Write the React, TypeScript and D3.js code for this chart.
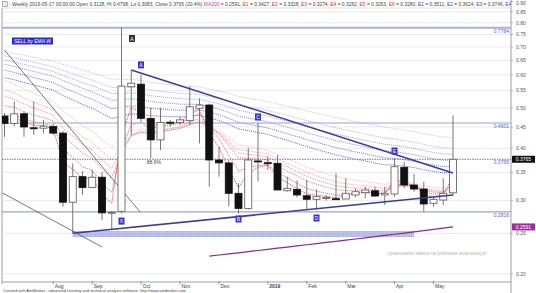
import React from 'react';
import * as d3 from 'd3';

const W = 536;
const H = 293;

// Weekly OHLC, Jul 2018 .. 2019-05-17
const opens = [0.478, 0.459, 0.484, 0.448, 0.447, 0.451, 0.435, 0.297, 0.342, 0.322, 0.341, 0.28, 0.282, 0.562, 0.57, 0.472, 0.419, 0.462, 0.461, 0.466, 0.499, 0.508, 0.375, 0.369, 0.312, 0.287, 0.373, 0.3694, 0.3682, 0.3164, 0.3189, 0.3078, 0.3018, 0.3045, 0.3028, 0.3023, 0.3091, 0.313, 0.3164, 0.3091, 0.3108, 0.3601, 0.3266, 0.3194, 0.2952, 0.3006, 0.3128];
const highs = [0.486, 0.518, 0.49, 0.518, 0.468, 0.458, 0.44, 0.368, 0.353, 0.355, 0.351, 0.283, 0.7784, 0.6165, 0.6, 0.5, 0.5, 0.468, 0.476, 0.564, 0.527, 0.512, 0.4035, 0.375, 0.33, 0.4007, 0.4601, 0.382, 0.3855, 0.342, 0.335, 0.3358, 0.3189, 0.3091, 0.3484, 0.3389, 0.3207, 0.3235, 0.3235, 0.3235, 0.3785, 0.3715, 0.347, 0.3326, 0.3062, 0.3389, 0.4798];
const lows = [0.426, 0.452, 0.426, 0.431, 0.435, 0.431, 0.2897, 0.2501, 0.309, 0.322, 0.269, 0.255, 0.279, 0.43, 0.463, 0.3785, 0.396, 0.451, 0.455, 0.455, 0.411, 0.3235, 0.342, 0.29, 0.279, 0.285, 0.333, 0.355, 0.318, 0.3147, 0.305, 0.2844, 0.2856, 0.2995, 0.3006, 0.3023, 0.305, 0.3035, 0.3062, 0.2924, 0.3062, 0.3207, 0.3147, 0.2818, 0.2897, 0.2924, 0.3083];
const closes = [0.459, 0.484, 0.45, 0.447, 0.452, 0.435, 0.297, 0.342, 0.322, 0.341, 0.28, 0.281, 0.564, 0.573, 0.472, 0.419, 0.461, 0.461, 0.468, 0.503, 0.508, 0.375, 0.369, 0.312, 0.287, 0.375, 0.3715, 0.369, 0.3177, 0.3207, 0.3091, 0.3018, 0.3062, 0.305, 0.3023, 0.312, 0.3147, 0.3177, 0.3073, 0.312, 0.3613, 0.3266, 0.3194, 0.2941, 0.3018, 0.312, 0.3765];

const monthTicks = [
  { i: 5, label: 'Aug' }, { i: 9, label: 'Sep' }, { i: 14, label: 'Oct' }, { i: 18, label: 'Nov' },
  { i: 22, label: 'Dec' }, { i: 27, label: '2019' }, { i: 31, label: 'Feb' }, { i: 35, label: 'Mar' },
  { i: 40, label: 'Apr' }, { i: 44, label: 'May' },
];
const priceTicks = [0.2, 0.25, 0.3, 0.35, 0.4, 0.45, 0.5, 0.55, 0.6, 0.65, 0.7, 0.75, 0.8, 0.85, 0.9];

// Guppy-style EMA ribbons: periods and the level each line starts from
const shortPeriods = [3, 5, 8, 10, 12, 15];
const shortSeeds = [0.47, 0.49, 0.52, 0.55, 0.57, 0.6];
const shortColors = ['#d82828', '#e04848', '#e66464', '#ec8080', '#f09a9a', '#f3b0b0'];
const longPeriods = [30, 35, 40, 45, 50, 60];
const longSeeds = [0.6, 0.625, 0.645, 0.66, 0.675, 0.69];
const longColors = ['#4c4cd6', '#6262de', '#7a7ae4', '#9292ea', '#a8a8ee', '#bcbcf2'];

// 200-period moving average, available from bar 21
const ma200Start = 21;
const ma200 = [0.2206, 0.2219, 0.2232, 0.2246, 0.226, 0.2275, 0.229, 0.2304, 0.2318, 0.2333, 0.2348, 0.2363, 0.2378, 0.2393, 0.2408, 0.2424, 0.244, 0.2456, 0.2472, 0.2488, 0.2505, 0.2522, 0.2539, 0.2556, 0.2573, 0.2591];

const levelValues = [0.7784, 0.4601, 0.3765, 0.2816];
const levelDotted = [false, false, true, false];

const waveLabels = [
  { i: 12, v: 0.2676, t: 'X' }, { i: 14, v: 0.634, t: 'A' }, { i: 24, v: 0.2707, t: 'B' },
  { i: 26, v: 0.4755, t: 'C' }, { i: 32, v: 0.2722, t: 'D' }, { i: 40, v: 0.394, t: 'E' },
];

// Triangle borders and older trend lines: [bar, price] end points
const triangleLines = [
  [[13, 0.6165], [46, 0.349]],
  [[7, 0.2501], [46, 0.309]],
];
const thinLines = [
  [[0, 0.688], [13.9, 0.2816]],
  [[-0.2, 0.3125], [10, 0.2319]],
];
const zoneFrom = 7;
const zoneTo = 42;
const zoneLo = 0.245;
const zoneHi = 0.2533;

function ema(values: number[], period: number, seed: number) {
  const a = 2 / (period + 1);
  let e = seed;
  return values.map((c) => (e = e + a * (c - e)));
}

const PL = 2, PR = 511, PT = 8, PB = 282;

export default function App() {
  const x = d3.scaleLinear().domain([0, 46]).range([4.5, 453]);
  const y = d3.scaleLog().domain([0.2, 0.4]).range([273.8, 148.3]);
  const line = d3.line<[number, number]>().x((d) => x(d[0])).y((d) => y(d[1]));

  const shortEmas = shortPeriods.map((p, k) => ema(closes, p, shortSeeds[k]));
  const longEmas = longPeriods.map((p, k) => ema(closes, p, longSeeds[k]));
  const last = closes.length - 1;
  const f4 = d3.format('.4f');

  const headerParts: { t: string; c: string }[] = [
    { t: `- Weekly 2019-05-17 00:00:00 Open ${f4(opens[last])}, Hi ${f4(highs[last])}, Lo ${f4(lows[last])}, Close ${f4(closes[last])} (${d3.format('.1f')((closes[last] / opens[last] - 1) * 100)}%) `, c: '#444' },
    { t: 'MA200', c: '#c040c0' },
    { t: ` = ${f4(ma200[ma200.length - 1])}, `, c: '#444' },
  ];
  shortEmas.forEach((e, k) => {
    headerParts.push({ t: `E${k + 1}`, c: '#e03030' });
    headerParts.push({ t: ` = ${f4(e[last])}, `, c: '#444' });
  });
  longEmas.slice(0, 3).forEach((e, k) => {
    headerParts.push({ t: `E${k + 1}`, c: '#4040d0' });
    headerParts.push({ t: ` = ${f4(e[last])}, `, c: '#444' });
  });
  headerParts.push({ t: 'E4', c: '#4040d0' });

  const ma200Pts = ma200.map((v, k) => [ma200Start + k, v] as [number, number]);
  const font = 'Liberation Sans, Arial, sans-serif';

  return (
    <svg width={W} height={H} style={{ position: 'absolute', left: 0, top: 0, background: '#fff' }} fontFamily={font}>
      <defs>
        <clipPath id="plot"><rect x={PL} y={PT} width={PR - PL} height={PB - PT} /></clipPath>
        <clipPath id="head"><rect x={0} y={0} width={PR} height={PT} /></clipPath>
      </defs>
      <rect x={0} y={0} width={W} height={H} fill="#fff" />

      {/* header line */}
      <rect x={2.5} y={1.5} width={5} height={5} fill="#eee" stroke="#888" strokeWidth={0.6} />
      <g clipPath="url(#head)">
        <text x={9} y={6.3} fontSize={4.9}>
          {headerParts.map((p, k) => (
            <tspan key={k} fill={p.c}>{p.t}</tspan>
          ))}
        </text>
      </g>

      {/* frame and grid */}
      <line x1={PL} x2={PR} y1={PT} y2={PT} stroke="#d8d8d8" strokeWidth={0.8} />
      <line x1={PL} x2={PL} y1={PT} y2={PB + 2} stroke="#888" strokeWidth={0.8} />
      <g clipPath="url(#plot)">
        {priceTicks.map((v) => (
          <line key={v} x1={PL} x2={PR} y1={y(v)} y2={y(v)} stroke="#e4e4e4" strokeWidth={0.8} />
        ))}

        {/* EMA ribbons */}
        {longEmas.map((e, k) => (
          <path key={'l' + k} d={line(e.map((v, i) => [i, v] as [number, number])) || ''} fill="none"
            stroke={longColors[k]} strokeWidth={0.9} strokeDasharray="1,1" />
        ))}
        {shortEmas.map((e, k) => (
          <path key={'s' + k} d={line(e.map((v, i) => [i, v] as [number, number])) || ''} fill="none"
            stroke={shortColors[k]} strokeWidth={0.9} strokeDasharray="1,1" />
        ))}

        {/* support zone */}
        <rect x={x(zoneFrom)} y={y(zoneHi)} width={x(zoneTo) - x(zoneFrom)} height={y(zoneLo) - y(zoneHi)} fill="#c9ccf4" />
        {[0, 1, 2, 3].map((k) => {
          const yy = y(zoneHi) + ((y(zoneLo) - y(zoneHi)) * (k + 0.5)) / 4;
          return <line key={k} x1={x(zoneFrom)} x2={x(zoneTo)} y1={yy} y2={yy} stroke="#8c92ea" strokeWidth={0.8} strokeDasharray="1,1" />;
        })}

        {/* MA200 */}
        <path d={line(ma200Pts) || ''} fill="none" stroke="#8a2a8a" strokeWidth={1.2} />

        {/* horizontal levels */}
        {levelValues.map((v, k) => (
          levelDotted[k]
            ? <line key={v} x1={PL} x2={PR} y1={y(v)} y2={y(v)} stroke="#6c6ce0" strokeWidth={1} strokeDasharray="1.5,1" />
            : <line key={v} x1={PL} x2={PR} y1={y(v)} y2={y(v)} stroke={k === 0 ? '#aab0d8' : '#9ea3c8'} strokeWidth={k === 0 ? 2 : 1.1} />
        ))}

        {/* older trend lines */}
        {thinLines.map((l, k) => (
          <path key={k} d={line(l as [number, number][]) || ''} stroke="#555" strokeWidth={0.8} fill="none" />
        ))}

        {/* candles */}
        {closes.map((c, i) => {
          const o = opens[i];
          const up = c >= o;
          const top = y(Math.max(o, c));
          const bot = y(Math.min(o, c));
          const cx = x(i);
          return (
            <g key={i}>
              <line x1={cx} x2={cx} y1={y(highs[i])} y2={y(lows[i])} stroke="#555" strokeWidth={0.8} />
              <rect x={cx - 3.5} y={top} width={7} height={Math.max(1, bot - top)}
                fill={up ? '#fff' : '#111'} stroke={up ? '#555' : '#111'} strokeWidth={0.8} />
            </g>
          );
        })}

        {/* triangle */}
        {triangleLines.map((l, k) => (
          <path key={k} d={line(l as [number, number][]) || ''} stroke="#3a3aa0" strokeWidth={1.5} fill="none" />
        ))}

        {/* level labels */}
        {levelValues.map((v) => (
          <text key={v} x={509} y={y(v) + 5} fontSize={5} fill="#5a5ad0" textAnchor="end">{f4(v)}</text>
        ))}

        {/* wave labels */}
        {waveLabels.map((w) => (
          <g key={w.t}>
            <rect x={x(w.i) - 3} y={y(w.v) - 3.5} width={6} height={7} fill="#3434d2" />
            <text x={x(w.i)} y={y(w.v) + 2} fontSize={5} fill="#fff" textAnchor="middle">{w.t}</text>
          </g>
        ))}
        <rect x={129} y={35} width={6} height={7} fill="#333" />
        <text x={132} y={40.5} fontSize={5} fill="#fff" textAnchor="middle">A</text>

        <text x={x(15) - 4} y={y(0.3765) + 5} fontSize={5} fill="#444">88.6%</text>

        {/* signal tag */}
        <rect x={12} y={37.5} width={41} height={7} fill="#2a2ad0" />
        <text x={14} y={43} fontSize={5} fill="#fff" textLength={37} lengthAdjust="spacingAndGlyphs">SELL by EMA  W</text>

        <text x={437} y={254.5} fontSize={4.6} fill="#b4b4b4" textAnchor="middle">opracowanie własne na podstawie www.stooq.pl</text>
      </g>

      {/* price axis */}
      <line x1={PR} x2={PR} y1={0} y2={H} stroke="#888" strokeWidth={0.8} />
      {priceTicks.map((v) => (
        <g key={v}>
          <line x1={PR} x2={PR + 2} y1={y(v)} y2={y(v)} stroke="#888" strokeWidth={0.6} />
          <text x={516} y={Math.max(5, y(v) + 1.8)} fontSize={5} fill="#555">{d3.format('.2f')(v)}</text>
        </g>
      ))}
      <rect x={512} y={y(closes[last]) - 3.5} width={23} height={7} fill="#111" />
      <text x={523.5} y={y(closes[last]) + 1.8} fontSize={5} fill="#fff" textAnchor="middle">{f4(closes[last])}</text>
      <rect x={512} y={y(ma200[ma200.length - 1]) - 3.5} width={23} height={7} fill="#a02ca0" />
      <text x={523.5} y={y(ma200[ma200.length - 1]) + 1.8} fontSize={5} fill="#fff" textAnchor="middle">{f4(ma200[ma200.length - 1])}</text>

      {/* time axis */}
      <line x1={PL} x2={PR} y1={PB} y2={PB} stroke="#888" strokeWidth={0.8} />
      {monthTicks.map((m) => (
        <g key={m.label}>
          <line x1={x(m.i)} x2={x(m.i)} y1={PB - 1} y2={PB + 2.5} stroke="#666" strokeWidth={0.6} />
          <text x={x(m.i) + 1.5} y={287.5} fontSize={5} fill="#444" fontWeight={m.label === '2019' ? 'bold' : 'normal'}>{m.label}</text>
        </g>
      ))}
      <text x={3} y={292} fontSize={4} fill="#444">Created with AmiBroker - advanced charting and technical analysis software. http://www.amibroker.com</text>
    </svg>
  );
}
